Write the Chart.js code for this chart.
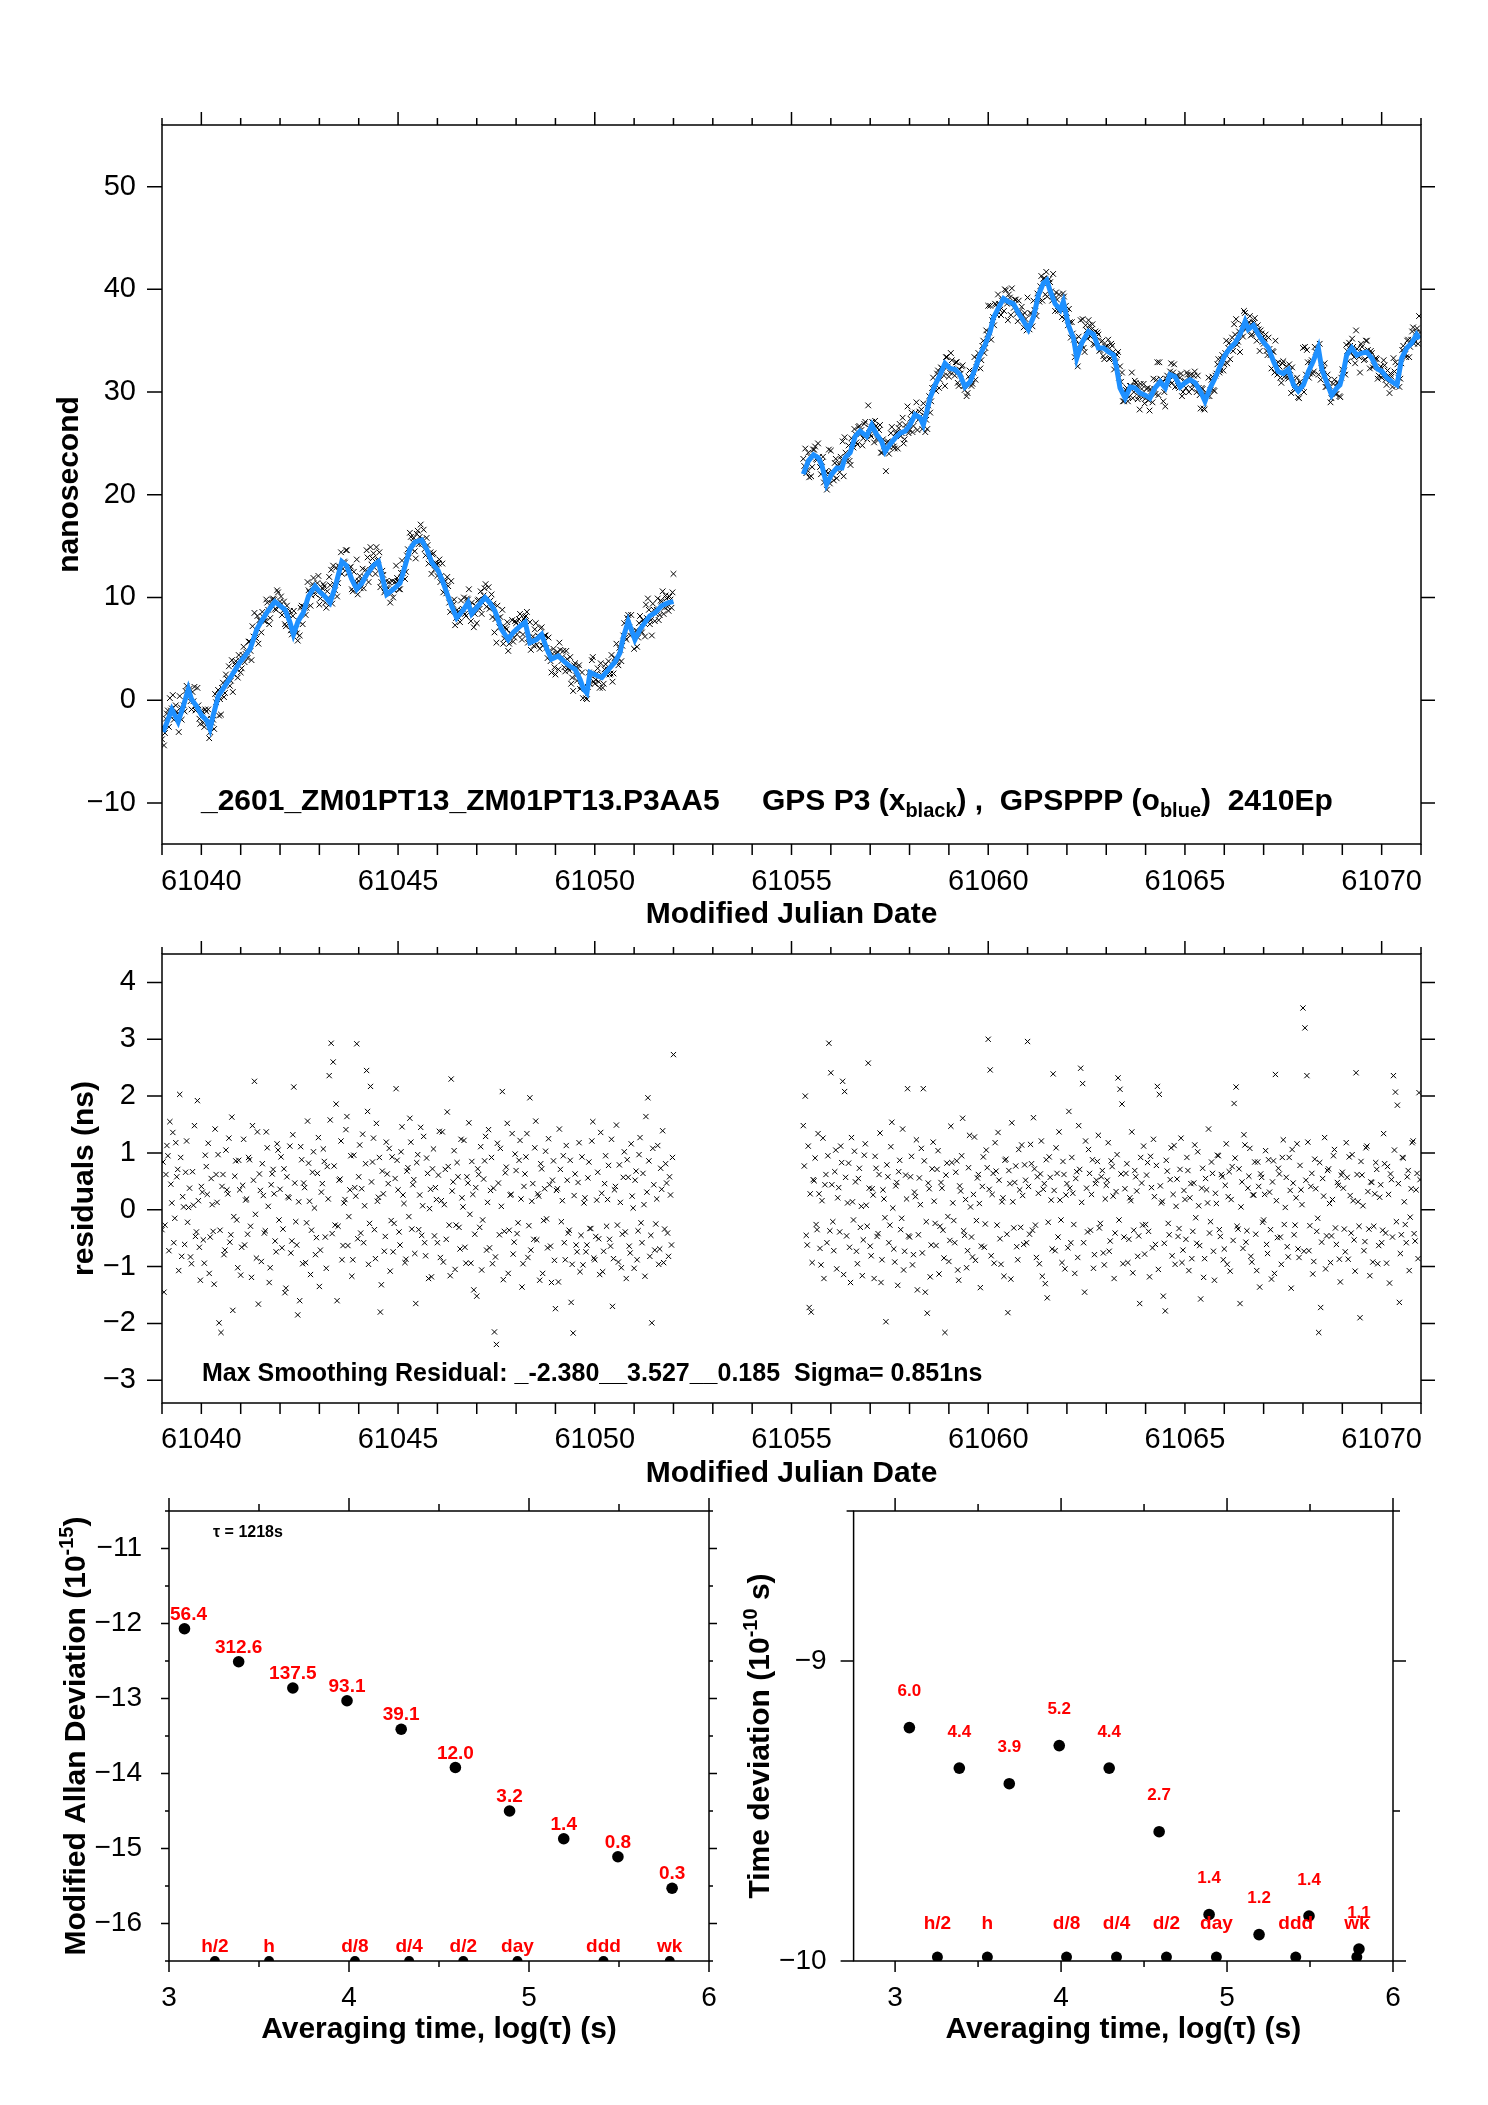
<!DOCTYPE html>
<html><head><meta charset="utf-8">
<script src="https://cdn.jsdelivr.net/npm/chart.js@4.4.1/dist/chart.umd.min.js"></script>
<style>
html,body{margin:0;padding:0;background:#fff;}
body{width:1488px;height:2105px;position:relative;overflow:hidden;}
canvas{position:absolute;}
</style></head><body>
<canvas id="cTop" width="1488" height="940" style="left:0;top:0;width:1488px;height:940px"></canvas>
<canvas id="cRes" width="1488" height="600" style="left:0;top:890px;width:1488px;height:600px"></canvas>
<canvas id="cMdev" width="744" height="655" style="left:0;top:1450px;width:744px;height:655px"></canvas>
<canvas id="cTdev" width="758" height="655" style="left:730px;top:1450px;width:758px;height:655px"></canvas>
<script>
// ---------------- DATA ----------------
// observation epochs (MJD), set A, shared by the P3 clock points and their residuals
const obsMjd = [
61039.00,61039.05,61039.10,61039.15,61039.20,61039.25,61039.30,61039.35,61039.40,61039.45,61039.50,61039.55,61039.60,61039.65,61039.70,61039.75,61039.80,61039.85,61039.90,61039.95,
61040.00,61040.05,61040.10,61040.15,61040.20,61040.25,61040.30,61040.35,61040.40,61040.45,61040.50,61040.55,61040.60,61040.65,61040.70,61040.75,61040.80,61040.85,61040.90,61040.95,
61041.00,61041.05,61041.10,61041.15,61041.20,61041.25,61041.30,61041.35,61041.40,61041.45,61041.50,61041.55,61041.60,61041.65,61041.70,61041.75,61041.80,61041.85,61041.90,61041.95,
61042.00,61042.05,61042.10,61042.15,61042.20,61042.25,61042.30,61042.35,61042.40,61042.45,61042.50,61042.55,61042.60,61042.65,61042.70,61042.75,61042.80,61042.85,61042.90,61042.95,
61043.00,61043.05,61043.10,61043.15,61043.20,61043.25,61043.30,61043.35,61043.40,61043.45,61043.50,61043.55,61043.60,61043.65,61043.70,61043.75,61043.80,61043.85,61043.90,61043.95,
61044.00,61044.05,61044.10,61044.15,61044.20,61044.25,61044.30,61044.35,61044.40,61044.45,61044.50,61044.55,61044.60,61044.65,61044.70,61044.75,61044.80,61044.85,61044.90,61044.95,
61045.00,61045.05,61045.10,61045.15,61045.20,61045.25,61045.30,61045.35,61045.40,61045.45,61045.50,61045.55,61045.60,61045.65,61045.70,61045.75,61045.80,61045.85,61045.90,61045.95,
61046.00,61046.05,61046.10,61046.15,61046.20,61046.25,61046.30,61046.35,61046.40,61046.45,61046.50,61046.55,61046.60,61046.65,61046.70,61046.75,61046.80,61046.85,61046.90,61046.95,
61047.00,61047.05,61047.10,61047.15,61047.20,61047.25,61047.30,61047.35,61047.40,61047.45,61047.50,61047.55,61047.60,61047.65,61047.70,61047.75,61047.80,61047.85,61047.90,61047.95,
61048.00,61048.05,61048.10,61048.15,61048.20,61048.25,61048.30,61048.35,61048.40,61048.45,61048.50,61048.55,61048.60,61048.65,61048.70,61048.75,61048.80,61048.85,61048.90,61048.95,
61049.00,61049.05,61049.10,61049.15,61049.20,61049.25,61049.30,61049.35,61049.40,61049.45,61049.50,61049.55,61049.60,61049.65,61049.70,61049.75,61049.80,61049.85,61049.90,61049.95,
61050.00,61050.05,61050.10,61050.15,61050.20,61050.25,61050.30,61050.35,61050.40,61050.45,61050.50,61050.55,61050.60,61050.65,61050.70,61050.75,61050.80,61050.85,61050.90,61050.95,
61051.00,61051.05,61051.10,61051.15,61051.20,61051.25,61051.30,61051.35,61051.40,61051.45,61051.50,61051.55,61051.60,61051.65,61051.70,61051.75,61051.80,61051.85,61051.90,61051.95,
61052.00,
61055.30,61055.35,61055.40,61055.45,61055.50,61055.55,61055.60,61055.65,61055.70,61055.75,61055.80,61055.85,61055.90,61055.95,
61056.00,61056.05,61056.10,61056.15,61056.20,61056.25,61056.30,61056.35,61056.40,61056.45,61056.50,61056.55,61056.60,61056.65,61056.70,61056.75,61056.80,61056.85,61056.90,61056.95,
61057.00,61057.05,61057.10,61057.15,61057.20,61057.25,61057.30,61057.35,61057.40,61057.45,61057.50,61057.55,61057.60,61057.65,61057.70,61057.75,61057.80,61057.85,61057.90,61057.95,
61058.00,61058.05,61058.10,61058.15,61058.20,61058.25,61058.30,61058.35,61058.40,61058.45,61058.50,61058.55,61058.60,61058.65,61058.70,61058.75,61058.80,61058.85,61058.90,61058.95,
61059.00,61059.05,61059.10,61059.15,61059.20,61059.25,61059.30,61059.35,61059.40,61059.45,61059.50,61059.55,61059.60,61059.65,61059.70,61059.75,61059.80,61059.85,61059.90,61059.95,
61060.00,61060.05,61060.10,61060.15,61060.20,61060.25,61060.30,61060.35,61060.40,61060.45,61060.50,61060.55,61060.60,61060.65,61060.70,61060.75,61060.80,61060.85,61060.90,61060.95,
61061.00,61061.05,61061.10,61061.15,61061.20,61061.25,61061.30,61061.35,61061.40,61061.45,61061.50,61061.55,61061.60,61061.65,61061.70,61061.75,61061.80,61061.85,61061.90,61061.95,
61062.00,61062.05,61062.10,61062.15,61062.20,61062.25,61062.30,61062.35,61062.40,61062.45,61062.50,61062.55,61062.60,61062.65,61062.70,61062.75,61062.80,61062.85,61062.90,61062.95,
61063.00,61063.05,61063.10,61063.15,61063.20,61063.25,61063.30,61063.35,61063.40,61063.45,61063.50,61063.55,61063.60,61063.65,61063.70,61063.75,61063.80,61063.85,61063.90,61063.95,
61064.00,61064.05,61064.10,61064.15,61064.20,61064.25,61064.30,61064.35,61064.40,61064.45,61064.50,61064.55,61064.60,61064.65,61064.70,61064.75,61064.80,61064.85,61064.90,61064.95,
61065.00,61065.05,61065.10,61065.15,61065.20,61065.25,61065.30,61065.35,61065.40,61065.45,61065.50,61065.55,61065.60,61065.65,61065.70,61065.75,61065.80,61065.85,61065.90,61065.95,
61066.00,61066.05,61066.10,61066.15,61066.20,61066.25,61066.30,61066.35,61066.40,61066.45,61066.50,61066.55,61066.60,61066.65,61066.70,61066.75,61066.80,61066.85,61066.90,61066.95,
61067.00,61067.05,61067.10,61067.15,61067.20,61067.25,61067.30,61067.35,61067.40,61067.45,61067.50,61067.55,61067.60,61067.65,61067.70,61067.75,61067.80,61067.85,61067.90,61067.95,
61068.00,61068.05,61068.10,61068.15,61068.20,61068.25,61068.30,61068.35,61068.40,61068.45,61068.50,61068.55,61068.60,61068.65,61068.70,61068.75,61068.80,61068.85,61068.90,61068.95,
61069.00,61069.05,61069.10,61069.15,61069.20,61069.25,61069.30,61069.35,61069.40,61069.45,61069.50,61069.55,61069.60,61069.65,61069.70,61069.75,61069.80,61069.85,61069.90,61069.95,
61070.00,61070.05,61070.10,61070.15,61070.20,61070.25,61070.30,61070.35,61070.40,61070.45,61070.50,61070.55,61070.60,61070.65,61070.70,61070.75,61070.80,61070.85,61070.90,61070.95
];
// GPS P3 clock offsets (ns), black x, set A
const clockNs = [
-3.8,-4.4,-1.8,-1.0,0.2,-0.8,-1.9,-0.5,-1.3,0.4,-1.9,-0.5,0.9,0.7,1.1,-0.9,-0.1,-1.0,1.2,-1.8,
-1.0,-2.2,-0.9,-1.8,-3.7,-1.8,-1.9,0.6,0.1,-1.5,-1.4,1.7,0.7,2.1,3.3,1.9,0.8,3.5,3.0,4.4,
2.7,4.4,3.7,4.7,5.7,4.8,7.2,8.5,6.0,5.5,7.8,8.6,7.7,9.8,8.8,8.0,9.8,9.8,8.8,10.5,
9.6,8.3,9.6,7.2,8.3,8.7,6.4,8.7,6.9,5.8,6.3,9.2,9.1,8.3,11.5,10.5,10.2,11.9,10.3,11.4,
9.3,10.7,11.3,9.5,10.6,12.0,12.7,13.1,10.7,10.1,13.0,14.4,12.8,13.4,14.6,12.4,13.0,10.6,11.6,13.7,
11.6,10.9,12.8,12.0,14.6,11.5,14.9,13.8,12.9,14.9,13.7,11.0,12.6,10.5,11.6,10.9,9.5,11.6,10.7,13.1,
11.6,10.8,13.6,12.8,12.5,14.7,16.3,14.7,15.8,13.8,16.5,15.9,15.2,16.6,14.1,15.1,14.0,12.3,14.3,13.4,
12.1,13.7,12.1,10.5,11.6,12.0,9.5,11.6,9.3,7.3,8.8,8.0,9.7,8.9,8.4,9.9,10.8,7.7,8.8,8.4,
7.5,9.8,10.6,9.5,10.9,9.1,11.0,9.7,8.1,6.6,5.6,8.0,8.1,8.8,6.0,6.9,4.8,6.5,7.8,6.1,
7.5,6.8,8.4,5.9,7.9,8.2,5.6,7.6,5.9,5.3,7.5,6.3,5.0,7.1,5.7,6.3,4.1,4.8,2.7,5.0,
2.5,4.7,5.6,3.8,4.8,2.8,4.0,2.9,1.6,0.9,3.6,1.9,3.4,1.4,0.2,1.1,0.1,2.7,2.4,4.2,
1.6,2.6,1.8,3.6,1.2,3.0,2.5,3.8,2.6,1.8,4.1,5.5,3.4,4.9,5.3,7.5,5.9,8.3,6.3,6.7,
5.0,6.8,6.1,8.2,6.6,7.5,9.3,9.9,7.4,6.3,8.8,8.4,9.9,8.3,9.6,8.4,10.2,9.1,10.1,9.0,
12.3,
23.5,24.5,22.4,21.7,21.8,24.4,24.7,23.4,23.7,22.0,23.7,22.1,20.5,24.4,
24.3,21.9,23.1,21.6,23.0,23.7,25.2,25.6,23.3,24.8,22.9,24.9,26.4,25.1,26.6,25.9,24.8,26.9,25.8,28.7,
25.9,27.1,25.1,26.7,25.3,26.8,24.1,24.7,22.3,25.2,24.6,26.6,24.7,26.0,24.5,26.9,26.0,25.0,26.8,28.6,
26.3,28.0,26.7,28.0,26.3,28.1,28.3,28.9,26.1,26.4,29.6,29.1,31.4,30.5,31.8,30.4,32.4,32.0,30.6,33.4,
31.5,33.8,32.3,31.6,32.9,30.6,31.8,32.6,30.2,29.6,31.5,31.2,30.8,33.4,32.4,33.8,32.3,34.5,33.8,36.0,
38.4,38.4,37.0,36.5,38.5,39.5,38.0,38.9,37.9,39.9,37.0,39.2,40.1,38.2,39.0,36.9,37.9,38.3,36.3,37.1,
39.2,36.1,37.6,38.9,37.9,39.6,38.8,41.3,41.0,39.5,39.3,41.0,39.8,41.5,37.9,39.0,39.5,38.0,39.6,37.1,
37.7,38.1,35.3,35.7,33.4,34.0,35.4,37.0,37.1,33.9,36.0,37.0,35.4,36.6,34.6,35.4,35.6,34.1,35.0,33.2,
34.4,35.1,33.3,34.5,32.2,32.9,33.9,32.5,31.9,29.1,30.2,29.1,30.6,31.9,30.0,30.9,29.3,28.3,30.3,30.8,
29.4,30.4,28.2,30.1,31.3,29.8,32.9,32.9,30.9,29.1,28.6,31.6,31.1,32.8,31.9,30.5,31.6,30.4,31.8,30.0,
31.1,31.9,30.0,31.7,30.7,32.0,30.0,30.4,28.4,30.3,28.3,29.9,31.4,30.2,31.5,30.1,31.8,33.2,32.1,33.6,
32.7,35.0,34.3,33.2,35.3,36.6,37.1,34.9,33.9,36.6,37.9,36.1,36.6,37.4,35.6,36.7,35.7,36.5,34.0,35.7,
34.7,35.6,33.6,34.2,32.3,33.9,35.0,31.7,32.5,30.9,33.0,31.9,31.5,32.7,29.9,31.3,30.2,31.4,29.4,30.8,
34.3,34.4,34.1,31.4,32.9,31.8,34.4,33.6,31.7,31.2,32.6,32.8,30.5,31.2,29.0,30.0,31.2,29.8,30.9,29.5,
32.2,32.1,34.6,33.0,34.5,35.2,33.4,36.0,33.8,31.9,34.4,33.1,35.0,34.1,32.3,33.8,32.6,33.3,31.3,32.3,
31.4,33.1,31.2,32.1,29.9,31.5,33.3,32.9,32.7,30.5,32.8,34.5,33.7,35.0,33.4,35.1,36.3,34.9,36.2,37.4
];
// smoothing residuals (ns), set A
const residNs = [
-0.35,-1.45,0.62,0.95,1.55,0.12,-0.58,1.18,0.71,2.03,-0.82,0.05,0.66,-0.22,0.38,-0.95,0.08,-0.47,1.92,-0.66,
0.41,-0.53,0.96,0.27,-1.12,0.55,-0.38,1.42,0.13,-1.99,-2.16,0.62,-0.71,0.35,1.26,-0.44,-1.77,0.59,-0.18,0.87,
-1.15,0.43,-0.62,0.19,0.92,-0.29,1.48,2.26,-0.85,-1.66,0.34,0.81,-0.41,1.37,0.06,-1.02,0.63,0.28,-0.74,1.05,
0.36,-0.67,0.72,-1.38,0.23,1.12,-0.55,2.16,-0.21,-1.85,-1.6,0.88,0.47,-0.93,1.56,0.15,-0.36,1.02,-0.79,0.64,
-1.35,0.31,1.07,-0.48,0.76,2.36,2.93,2.6,-0.27,-1.6,0.52,1.21,-0.63,0.18,1.64,-0.12,0.95,-0.88,0.39,2.92,
0.58,-0.41,1.33,0.07,2.45,-0.96,2.17,0.84,-0.35,1.52,0.22,-1.8,0.68,-0.73,1.19,0.46,-1.08,0.93,-0.24,2.13,
0.35,-0.62,1.46,0.11,-0.87,0.74,1.61,-0.34,0.53,-1.65,0.97,0.26,-0.45,1.29,-0.81,0.64,0.02,-1.18,1.07,0.39,
-0.58,1.38,0.16,-0.92,0.71,1.72,-0.27,2.3,0.49,-1.05,0.83,-0.31,1.24,0.05,-0.66,0.58,1.53,-0.94,0.27,-0.43,
-1.52,0.62,1.11,-0.18,0.86,-0.71,1.41,0.34,-0.95,-2.15,-2.37,0.47,1.08,2.08,-0.38,0.75,-1.12,0.26,1.34,-0.57,
0.69,-0.23,1.22,-1.36,0.41,0.93,-0.84,1.97,0.15,-0.52,1.56,0.28,-1.24,0.72,-0.19,1.03,-0.67,0.44,-1.28,0.86,
-1.74,0.37,1.42,-0.21,0.95,-0.88,0.52,-0.36,-1.63,-2.17,0.63,-0.74,1.18,-0.45,-0.97,0.21,-0.62,0.84,-0.33,1.55,
-0.88,0.17,-0.51,1.36,-1.09,0.46,-0.29,0.78,-0.64,-1.7,0.35,1.49,-0.92,0.13,-0.43,1.02,-1.21,0.57,-0.76,0.24,
-1.03,0.68,-0.37,1.27,-0.58,0.09,1.64,1.97,-0.82,-1.99,0.44,-0.25,1.13,-0.69,0.36,-0.93,0.81,-0.41,0.58,-0.62,
2.73,
1.48,2.0,-0.62,-1.72,-1.8,0.53,0.91,-0.35,0.28,-0.97,1.26,0.44,-0.58,2.93,
2.41,-0.21,0.67,-1.04,0.39,1.12,2.26,2.08,-0.46,0.82,-1.28,0.14,1.03,-0.73,0.55,-0.31,-1.16,0.96,0.08,2.58,
-0.64,0.37,-1.21,0.73,-0.42,1.35,-0.88,0.19,-1.97,0.58,-0.27,1.54,-0.69,0.42,-1.33,0.87,-0.15,-1.06,0.61,2.13,
-0.48,0.94,-0.79,0.23,-1.41,0.56,1.08,2.13,-1.45,-1.82,0.37,-0.62,1.19,-0.24,0.71,-1.13,0.48,-0.36,-2.16,0.82,
-0.91,1.47,0.12,-0.58,0.86,-1.24,0.33,1.61,-0.45,-1.02,0.74,0.05,-0.83,1.28,-0.19,0.62,-1.37,0.41,-0.66,1.05,
3.0,2.46,0.27,-0.94,0.68,1.36,-0.51,0.14,-1.17,0.89,-1.81,0.46,1.53,-0.32,0.77,-0.88,0.35,1.14,-0.61,0.52,
2.96,-0.43,0.81,1.62,-0.27,0.58,-0.95,1.21,0.36,-1.3,-1.55,0.93,0.17,2.39,-0.72,0.64,1.37,-0.18,0.85,-1.04,
0.46,1.73,-0.58,0.29,-1.12,0.67,1.48,2.49,2.22,-1.45,0.38,1.06,-0.36,0.88,-0.79,0.52,1.31,-0.24,0.69,-0.97,
0.43,1.18,-0.55,0.76,-1.21,0.32,2.32,2.12,1.86,-0.48,0.64,-0.93,0.21,1.37,-0.36,0.58,-0.82,-1.65,0.47,1.12,
-0.26,0.83,-1.18,0.39,1.24,-0.61,2.17,2.03,0.12,-1.52,-1.78,0.68,-0.44,1.09,0.27,-0.96,0.54,-0.33,1.26,-0.71,
0.18,0.92,-1.07,0.46,-0.38,1.14,-0.59,0.07,-1.57,0.73,-0.86,0.35,1.42,-0.21,0.64,-1.24,0.11,0.95,-0.47,0.58,
-0.69,1.16,0.23,-1.08,0.76,1.87,2.16,-0.34,-1.65,0.49,1.32,-0.57,0.38,1.08,-0.92,0.26,-0.43,0.84,-1.36,0.57,
-0.18,1.04,-0.77,0.31,-1.22,0.86,2.38,-0.49,0.63,-0.96,1.23,0.04,-0.65,0.92,-1.38,0.47,-0.27,1.16,-0.84,0.35,
3.55,3.2,2.36,-0.72,0.41,-1.13,0.89,-0.38,-2.16,-1.72,0.55,1.27,-0.46,0.72,-0.93,0.18,1.06,-0.61,0.43,-1.27,
0.66,-0.34,1.18,-0.87,0.25,0.97,-0.53,2.41,0.14,-1.9,0.61,-0.72,1.09,0.32,-1.16,0.48,-0.29,0.83,-0.95,0.22,
-0.58,1.34,-0.41,0.76,-1.29,0.53,2.36,2.07,1.84,-1.63,-0.44,0.91,-0.26,0.58,-1.07,0.37,1.21,-0.55,0.64,2.06
];
// observation epochs (MJD), set B (interleaved)
const obsMjdB = [
61039.025,61039.075,61039.125,61039.175,61039.225,61039.275,61039.325,61039.375,61039.425,61039.475,61039.525,61039.575,61039.625,61039.675,61039.725,61039.775,61039.825,61039.875,61039.925,61039.975,
61040.025,61040.075,61040.125,61040.175,61040.225,61040.275,61040.325,61040.375,61040.425,61040.475,61040.525,61040.575,61040.625,61040.675,61040.725,61040.775,61040.825,61040.875,61040.925,61040.975,
61041.025,61041.075,61041.125,61041.175,61041.225,61041.275,61041.325,61041.375,61041.425,61041.475,61041.525,61041.575,61041.625,61041.675,61041.725,61041.775,61041.825,61041.875,61041.925,61041.975,
61042.025,61042.075,61042.125,61042.175,61042.225,61042.275,61042.325,61042.375,61042.425,61042.475,61042.525,61042.575,61042.625,61042.675,61042.725,61042.775,61042.825,61042.875,61042.925,61042.975,
61043.025,61043.075,61043.125,61043.175,61043.225,61043.275,61043.325,61043.375,61043.425,61043.475,61043.525,61043.575,61043.625,61043.675,61043.725,61043.775,61043.825,61043.875,61043.925,61043.975,
61044.025,61044.075,61044.125,61044.175,61044.225,61044.275,61044.325,61044.375,61044.425,61044.475,61044.525,61044.575,61044.625,61044.675,61044.725,61044.775,61044.825,61044.875,61044.925,61044.975,
61045.025,61045.075,61045.125,61045.175,61045.225,61045.275,61045.325,61045.375,61045.425,61045.475,61045.525,61045.575,61045.625,61045.675,61045.725,61045.775,61045.825,61045.875,61045.925,61045.975,
61046.025,61046.075,61046.125,61046.175,61046.225,61046.275,61046.325,61046.375,61046.425,61046.475,61046.525,61046.575,61046.625,61046.675,61046.725,61046.775,61046.825,61046.875,61046.925,61046.975,
61047.025,61047.075,61047.125,61047.175,61047.225,61047.275,61047.325,61047.375,61047.425,61047.475,61047.525,61047.575,61047.625,61047.675,61047.725,61047.775,61047.825,61047.875,61047.925,61047.975,
61048.025,61048.075,61048.125,61048.175,61048.225,61048.275,61048.325,61048.375,61048.425,61048.475,61048.525,61048.575,61048.625,61048.675,61048.725,61048.775,61048.825,61048.875,61048.925,61048.975,
61049.025,61049.075,61049.125,61049.175,61049.225,61049.275,61049.325,61049.375,61049.425,61049.475,61049.525,61049.575,61049.625,61049.675,61049.725,61049.775,61049.825,61049.875,61049.925,61049.975,
61050.025,61050.075,61050.125,61050.175,61050.225,61050.275,61050.325,61050.375,61050.425,61050.475,61050.525,61050.575,61050.625,61050.675,61050.725,61050.775,61050.825,61050.875,61050.925,61050.975,
61051.025,61051.075,61051.125,61051.175,61051.225,61051.275,61051.325,61051.375,61051.425,61051.475,61051.525,61051.575,61051.625,61051.675,61051.725,61051.775,61051.825,61051.875,61051.925,61051.975,
61055.325,61055.375,61055.425,61055.475,61055.525,61055.575,61055.625,61055.675,61055.725,61055.775,61055.825,61055.875,61055.925,61055.975,
61056.025,61056.075,61056.125,61056.175,61056.225,61056.275,61056.325,61056.375,61056.425,61056.475,61056.525,61056.575,61056.625,61056.675,61056.725,61056.775,61056.825,61056.875,61056.925,61056.975,
61057.025,61057.075,61057.125,61057.175,61057.225,61057.275,61057.325,61057.375,61057.425,61057.475,61057.525,61057.575,61057.625,61057.675,61057.725,61057.775,61057.825,61057.875,61057.925,61057.975,
61058.025,61058.075,61058.125,61058.175,61058.225,61058.275,61058.325,61058.375,61058.425,61058.475,61058.525,61058.575,61058.625,61058.675,61058.725,61058.775,61058.825,61058.875,61058.925,61058.975,
61059.025,61059.075,61059.125,61059.175,61059.225,61059.275,61059.325,61059.375,61059.425,61059.475,61059.525,61059.575,61059.625,61059.675,61059.725,61059.775,61059.825,61059.875,61059.925,61059.975,
61060.025,61060.075,61060.125,61060.175,61060.225,61060.275,61060.325,61060.375,61060.425,61060.475,61060.525,61060.575,61060.625,61060.675,61060.725,61060.775,61060.825,61060.875,61060.925,61060.975,
61061.025,61061.075,61061.125,61061.175,61061.225,61061.275,61061.325,61061.375,61061.425,61061.475,61061.525,61061.575,61061.625,61061.675,61061.725,61061.775,61061.825,61061.875,61061.925,61061.975,
61062.025,61062.075,61062.125,61062.175,61062.225,61062.275,61062.325,61062.375,61062.425,61062.475,61062.525,61062.575,61062.625,61062.675,61062.725,61062.775,61062.825,61062.875,61062.925,61062.975,
61063.025,61063.075,61063.125,61063.175,61063.225,61063.275,61063.325,61063.375,61063.425,61063.475,61063.525,61063.575,61063.625,61063.675,61063.725,61063.775,61063.825,61063.875,61063.925,61063.975,
61064.025,61064.075,61064.125,61064.175,61064.225,61064.275,61064.325,61064.375,61064.425,61064.475,61064.525,61064.575,61064.625,61064.675,61064.725,61064.775,61064.825,61064.875,61064.925,61064.975,
61065.025,61065.075,61065.125,61065.175,61065.225,61065.275,61065.325,61065.375,61065.425,61065.475,61065.525,61065.575,61065.625,61065.675,61065.725,61065.775,61065.825,61065.875,61065.925,61065.975,
61066.025,61066.075,61066.125,61066.175,61066.225,61066.275,61066.325,61066.375,61066.425,61066.475,61066.525,61066.575,61066.625,61066.675,61066.725,61066.775,61066.825,61066.875,61066.925,61066.975,
61067.025,61067.075,61067.125,61067.175,61067.225,61067.275,61067.325,61067.375,61067.425,61067.475,61067.525,61067.575,61067.625,61067.675,61067.725,61067.775,61067.825,61067.875,61067.925,61067.975,
61068.025,61068.075,61068.125,61068.175,61068.225,61068.275,61068.325,61068.375,61068.425,61068.475,61068.525,61068.575,61068.625,61068.675,61068.725,61068.775,61068.825,61068.875,61068.925,61068.975,
61069.025,61069.075,61069.125,61069.175,61069.225,61069.275,61069.325,61069.375,61069.425,61069.475,61069.525,61069.575,61069.625,61069.675,61069.725,61069.775,61069.825,61069.875,61069.925,61069.975,
61070.025,61070.075,61070.125,61070.175,61070.225,61070.275,61070.325,61070.375,61070.425,61070.475,61070.525,61070.575,61070.625,61070.675,61070.725,61070.775,61070.825,61070.875,61070.925,61070.975
];
const clockNsB = [
-2.6,-3.2,-1.3,-2.6,-1.0,0.5,-1.5,-1.1,-3.1,-0.7,-0.9,-1.1,1.4,0.9,-0.1,0.8,1.3,-0.9,-0.5,-2.3,
-1.1,-2.6,-1.1,-0.9,-3.1,-2.2,-2.8,-0.2,1.0,0.1,1.2,0.3,2.5,2.0,1.4,3.9,2.5,3.8,2.2,3.9,
3.1,5.2,4.5,4.1,5.7,3.9,6.2,6.1,8.2,7.8,6.6,8.1,7.7,9.5,7.4,9.4,9.9,8.9,10.7,9.2,
10.1,8.7,7.4,9.2,8.3,6.8,8.2,7.0,6.5,7.7,9.0,7.4,9.0,9.0,10.7,9.2,11.3,10.9,10.6,12.1,
9.9,10.9,11.1,9.0,10.0,11.2,9.4,11.3,12.9,11.4,13.0,12.3,13.5,14.6,12.4,12.9,10.8,12.5,11.4,10.3,
12.1,11.7,10.9,12.7,13.9,12.3,13.2,14.3,12.3,13.6,14.4,11.5,12.2,10.7,11.0,11.5,10.4,10.0,11.5,11.9,
10.8,12.4,12.4,11.8,14.1,13.9,15.9,15.4,14.5,16.2,15.2,17.1,15.7,14.7,15.8,13.3,14.4,14.2,12.7,13.2,
13.3,11.5,13.3,11.5,10.4,11.1,8.6,9.6,9.8,8.0,8.6,7.6,8.7,10.0,8.2,9.8,9.2,9.5,7.1,9.2,
9.7,8.9,8.4,10.2,11.3,9.9,8.9,10.3,9.4,7.9,9.2,7.1,7.1,5.5,7.1,7.6,5.5,6.5,5.7,7.7,
6.4,7.9,7.4,6.4,8.1,8.6,6.1,4.9,6.2,6.9,5.4,6.2,7.0,5.3,6.3,5.1,6.1,3.8,4.5,3.2,
4.5,3.0,4.9,4.2,3.2,4.8,3.1,4.2,2.2,3.4,2.4,3.1,1.1,2.7,1.3,0.2,1.3,1.6,3.9,1.8,
2.0,3.1,1.2,2.5,1.6,3.5,3.0,2.5,4.4,2.6,4.1,3.7,5.1,3.8,6.3,6.1,8.0,7.1,8.3,6.5,
6.5,5.2,7.5,6.7,7.8,6.2,8.0,8.8,7.8,9.4,7.7,8.8,7.8,9.7,10.6,9.0,9.9,8.7,9.8,10.5,
22.8,22.1,24.1,23.7,22.7,24.4,23.5,25.0,22.7,23.2,21.2,22.3,22.1,21.1,
22.3,21.4,23.5,22.8,22.2,23.4,21.8,24.1,23.9,23.3,25.5,24.6,25.9,24.9,26.7,26.3,25.5,27.1,25.4,26.5,
25.7,27.0,27.2,25.5,26.3,24.1,25.4,24.4,25.1,24.0,26.0,25.1,24.5,26.1,26.5,25.7,27.5,25.4,26.4,26.0,
27.4,26.1,27.8,29.0,27.3,27.6,26.4,27.7,27.3,28.7,28.0,30.4,30.4,30.1,32.1,31.2,32.3,31.6,33.4,32.5,
31.9,33.1,32.0,32.9,30.9,32.2,32.5,30.6,30.8,29.9,32.1,30.6,31.9,31.2,33.2,33.3,33.1,35.0,34.3,35.6,
35.8,35.1,37.3,38.6,37.5,38.6,37.5,39.0,40.0,38.6,39.5,37.5,38.7,39.0,37.6,38.9,37.2,37.5,37.7,36.0,
36.6,37.7,36.4,38.0,37.4,39.3,40.3,38.9,41.1,41.7,40.6,40.7,38.9,39.4,39.7,37.9,38.3,37.3,39.3,38.4,
36.5,36.8,36.8,35.1,35.1,32.5,34.6,34.6,34.3,36.5,35.2,36.5,36.1,34.7,35.9,35.8,34.0,34.9,33.5,34.4,
34.5,33.2,34.7,33.9,33.0,33.6,31.4,31.0,29.1,30.0,30.4,29.5,30.6,29.4,31.1,30.6,29.6,30.8,29.5,28.9,
30.3,29.2,30.3,29.0,30.3,31.2,29.7,31.3,31.0,30.0,31.3,30.7,32.0,30.9,32.7,31.6,30.6,31.4,29.6,31.0,
30.4,31.7,31.3,30.3,31.6,30.8,31.6,29.7,30.4,28.4,29.8,29.6,29.6,31.2,30.2,31.6,32.7,31.9,33.2,32.1,
33.8,32.8,34.8,34.5,34.0,35.6,34.6,35.9,35.7,35.4,37.7,36.3,36.8,35.5,36.8,37.2,35.0,36.1,36.0,34.9,
35.2,34.0,35.3,33.6,34.0,31.9,32.8,32.9,31.4,32.8,31.5,32.5,31.3,32.1,32.4,30.4,30.7,29.5,31.0,30.5,
30.0,31.7,32.9,31.8,33.1,32.0,33.9,33.9,34.7,32.3,32.2,30.5,31.7,30.6,29.4,30.8,29.8,30.9,29.6,31.4,
31.9,31.7,34.0,34.8,33.8,34.4,32.8,34.2,33.4,34.7,33.9,33.2,35.0,33.5,34.0,32.4,33.2,33.2,31.6,32.5,
31.6,32.6,30.7,31.6,31.8,30.5,32.0,30.6,31.4,31.3,34.1,33.7,33.4,35.1,34.4,35.9,34.7,35.8,34.7,35.8
];
const residNsB = [
0.84,-0.27,1.13,-0.72,0.45,1.36,-0.15,0.58,-1.07,0.92,0.23,-0.61,1.21,0.04,-0.83,0.67,1.48,-0.39,0.16,-1.24,
0.31,-0.94,0.76,1.17,-0.48,0.09,-1.31,0.62,0.97,-0.36,0.41,-0.79,1.05,0.28,-0.57,1.63,-0.12,0.86,-1.02,0.35,
-0.66,1.24,0.17,-0.43,0.88,-1.19,0.52,-0.08,1.37,0.63,-0.91,0.25,-0.37,1.09,-1.28,0.44,0.71,-0.55,1.16,-0.18,
0.93,-0.34,-1.46,0.58,0.21,-0.76,1.32,0.47,-0.62,0.14,1.11,-0.95,0.39,-0.23,0.82,-1.14,0.66,0.03,-0.49,1.27,
-0.71,0.46,0.85,-1.03,0.19,1.58,-0.42,0.77,1.86,-0.29,0.54,-0.88,0.12,1.41,-0.63,0.35,-1.17,0.96,0.24,-0.51,
1.14,0.37,-0.58,0.81,1.73,-0.24,0.49,1.26,-0.86,0.15,0.92,-1.32,0.28,-0.47,0.63,1.08,-0.19,-0.74,0.55,0.87,
-0.39,1.02,0.26,-0.93,0.68,-0.12,1.19,0.44,-0.77,0.83,-0.35,1.45,0.07,-0.58,0.91,-1.21,0.36,0.72,-0.46,0.18,
0.61,-0.84,1.37,0.09,-0.52,0.76,-1.16,0.33,1.04,-0.27,0.58,-0.69,0.21,1.22,-0.94,0.47,-0.08,0.85,-1.41,0.39,
0.72,-0.31,-1.06,0.54,1.29,0.13,-0.67,0.92,0.38,-0.83,1.17,-0.44,0.06,-1.23,0.65,1.52,-0.36,0.27,-0.78,0.98,
-0.42,0.87,0.19,-0.95,0.63,1.34,-0.28,-0.71,0.46,1.09,-0.53,0.24,0.81,-1.12,0.37,-0.16,1.25,-0.64,0.52,-0.89,
0.34,-1.27,0.71,0.16,-0.58,1.13,-0.41,0.87,-0.96,0.25,-0.62,0.48,-1.09,0.93,0.12,-0.74,0.56,-0.33,1.21,-0.85,
-0.47,0.66,-1.14,0.29,-0.73,0.95,0.18,-0.52,1.24,-0.86,0.41,-0.27,0.79,-1.02,0.57,-0.39,0.88,-0.64,1.16,0.03,
0.52,-0.88,0.97,-0.23,0.64,-1.17,0.31,0.86,-0.45,1.08,-0.71,0.19,-0.96,0.73,1.39,-0.34,0.47,-0.82,0.26,0.92,
0.77,-0.45,1.12,0.28,-0.93,0.51,-0.26,1.34,-0.68,0.16,-1.21,0.62,0.95,-0.37,
0.44,-0.72,1.05,0.21,-0.39,0.83,-1.14,0.57,0.12,-0.66,1.27,-0.18,0.49,-0.95,0.73,0.06,-0.53,1.16,-0.29,0.38,
-0.81,0.26,0.94,-0.47,0.62,-1.28,0.35,-0.14,0.79,-0.58,1.11,0.03,-0.92,0.48,0.67,-0.35,1.42,-0.73,0.19,-0.46,
0.58,-0.97,0.31,1.23,-0.44,0.09,-0.76,0.86,-0.21,0.47,-1.18,0.72,0.15,-0.63,1.04,-0.29,0.38,-0.85,0.61,-0.12,
-0.54,0.83,-0.19,0.66,-1.06,0.42,0.95,-0.37,0.18,-0.72,1.31,-0.48,0.27,-0.89,0.56,0.11,-0.64,0.93,-0.25,0.74,
0.36,-0.81,0.64,1.18,-0.27,0.52,-0.96,0.21,0.87,-0.43,0.69,-1.22,0.14,0.48,-0.65,1.06,-0.31,0.25,0.79,-0.58,
0.41,1.15,-0.36,0.72,-0.84,0.29,0.63,-1.17,0.46,0.88,-0.22,0.57,-0.69,0.34,1.09,-0.48,0.17,-0.93,0.62,0.26,
-0.67,0.38,0.92,-0.26,0.55,-0.84,0.71,0.13,-0.58,1.21,-0.39,0.64,0.27,-1.03,0.46,0.85,-0.32,0.58,-0.76,0.19,
0.52,-0.73,0.86,0.24,-0.41,0.97,-0.18,0.63,-0.95,0.37,0.81,-0.52,0.16,-1.11,0.69,0.33,-0.46,0.92,-0.27,-0.78,
0.61,-0.38,0.94,-0.67,0.23,0.78,-1.05,0.42,0.15,-0.59,0.87,-0.24,0.53,-0.81,1.13,0.06,-0.47,0.71,-0.93,0.34,
-0.52,0.69,0.21,-0.86,0.47,-0.14,1.02,-0.63,0.38,-1.19,0.55,0.12,-0.41,0.84,-0.73,0.29,0.96,-0.35,0.62,-0.88,
0.43,-0.96,0.67,0.18,-0.54,0.91,-0.29,0.72,0.05,-0.68,1.14,-0.37,0.59,-0.82,0.26,0.84,-1.07,0.41,0.63,-0.22,
0.27,-0.61,0.88,-0.35,0.49,-1.12,0.16,0.73,-0.48,0.92,-0.26,0.57,-0.83,0.34,1.06,-0.44,0.21,-0.69,0.78,0.09,
-0.73,0.52,1.19,-0.28,0.64,-0.91,0.37,-0.15,0.83,-0.57,0.24,-1.04,0.69,0.11,-0.46,0.95,-0.32,0.48,-0.87,0.61,
0.38,-0.74,0.57,0.93,-0.41,0.16,-1.08,0.62,-0.29,0.85,0.07,-0.56,1.12,-0.34,0.49,-0.92,0.28,0.71,-0.63,0.44,
-0.36,0.81,-0.94,0.27,0.63,-0.48,1.05,-0.21,0.46,-0.77,0.92,0.14,-0.58,0.69,-0.13,1.18,-0.42,0.35,-0.86,0.53
];
// GPSPPP smoothed solution (blue)
const smoothMjd = [
61039.03,61039.12,61039.25,61039.33,61039.41,61039.54,61039.67,61039.75,61039.88,61040.01,
61040.14,61040.22,61040.30,61040.43,61040.60,61040.77,61040.98,61041.11,61041.24,61041.41,
61041.53,61041.66,61041.87,61042.00,61042.13,61042.25,61042.34,61042.46,61042.59,61042.72,
61042.89,61043.02,61043.14,61043.27,61043.40,61043.57,61043.69,61043.82,61043.95,61044.08,
61044.20,61044.37,61044.50,61044.59,61044.71,61044.88,61045.05,61045.18,61045.30,61045.43,
61045.60,61045.73,61045.86,61046.02,61046.15,61046.28,61046.36,61046.49,61046.66,61046.78,
61046.87,61047.04,61047.21,61047.33,61047.46,61047.63,61047.80,61047.93,61048.10,61048.23,
61048.35,61048.52,61048.65,61048.78,61048.90,61049.07,61049.24,61049.37,61049.50,61049.63,
61049.71,61049.80,61049.88,61050.05,61050.18,61050.35,61050.51,61050.64,61050.73,61050.85,
61051.02,61051.15,61051.28,61051.40,61051.53,61051.70,61051.87,61052.00,
61055.30,61055.43,61055.56,61055.68,61055.77,61055.89,61056.02,61056.15,61056.28,61056.36,
61056.49,61056.62,61056.74,61056.91,61057.04,61057.16,61057.29,61057.38,61057.50,61057.63,
61057.76,61057.89,61058.01,61058.14,61058.27,61058.35,61058.44,61058.52,61058.65,61058.78,
61058.90,61059.03,61059.16,61059.28,61059.41,61059.54,61059.67,61059.79,61059.92,61060.05,
61060.13,61060.26,61060.39,61060.51,61060.64,61060.77,61060.90,61061.02,61061.15,61061.28,
61061.40,61061.49,61061.57,61061.70,61061.83,61061.91,61062.04,61062.17,61062.25,61062.38,
61062.55,61062.68,61062.80,61062.93,61063.06,61063.19,61063.27,61063.35,61063.48,61063.61,
61063.73,61063.86,61063.99,61064.11,61064.24,61064.37,61064.50,61064.62,61064.75,61064.88,
61065.00,61065.13,61065.26,61065.39,61065.51,61065.64,61065.77,61065.89,61066.02,61066.15,
61066.28,61066.40,61066.53,61066.61,61066.74,61066.87,61066.99,61067.12,61067.25,61067.37,
61067.50,61067.63,61067.76,61067.88,61068.01,61068.14,61068.26,61068.39,61068.48,61068.60,
61068.73,61068.86,61068.94,61069.03,61069.11,61069.24,61069.37,61069.50,61069.62,61069.75,
61069.88,61070.01,61070.13,61070.26,61070.39,61070.51,61070.64,61070.77,61070.89,61070.97
];
const smoothNs = [
-3.1,-2.2,-0.9,-1.5,-2.1,-0.6,1.1,0.1,-0.6,-1.5,
-2.0,-2.8,-1.5,0.4,1.4,2.4,3.7,4.3,5.0,6.9,
7.7,8.5,9.6,9.2,8.8,7.6,6.4,7.7,8.5,10.1,
11.1,10.5,10.1,9.5,11.0,13.5,13.1,11.8,10.8,11.4,
12.2,13.1,13.5,12.1,10.3,10.8,11.4,13.1,14.7,15.4,
15.6,14.7,13.4,12.6,11.4,10.0,9.2,8.0,8.8,9.5,
8.4,9.2,10.0,9.5,8.7,6.9,5.9,6.6,7.2,7.6,
5.6,5.9,6.4,5.0,4.0,4.3,3.7,3.3,3.0,2.0,
1.1,0.7,2.7,2.4,2.2,3.0,3.7,4.6,6.2,7.7,
5.9,6.9,7.6,8.2,8.5,9.2,9.5,9.6,
22.0,23.3,23.9,23.6,22.9,21.0,22.0,22.6,22.6,23.6,
24.1,25.7,26.2,25.7,26.8,25.9,25.2,24.2,24.9,25.5,
26.0,26.2,26.8,27.8,27.5,26.8,28.1,29.4,30.7,31.7,
32.8,32.3,32.2,31.7,30.5,31.0,32.3,33.6,34.6,35.9,
37.2,38.2,39.1,38.8,38.6,37.7,36.9,36.1,37.3,39.5,
40.6,40.9,39.9,38.6,38.0,38.8,36.5,35.2,33.3,34.8,
35.9,35.6,34.3,34.3,33.9,33.6,32.2,30.4,29.4,30.5,
30.4,29.9,29.7,29.4,30.4,31.0,30.4,31.7,31.5,30.5,
30.9,31.2,30.9,30.1,29.1,30.4,31.4,32.5,33.6,34.3,
34.8,35.6,36.9,36.1,36.5,35.6,34.9,34.3,33.0,32.0,
31.8,32.2,30.7,30.1,30.7,32.0,33.0,34.3,32.2,31.0,
29.7,30.4,30.7,32.0,33.6,34.3,33.6,33.8,33.9,33.3,
32.3,32.0,31.4,31.0,30.7,33.3,34.3,34.8,35.6,35.2
];
// stability panels
const tauLog = [3.086, 3.387, 3.688, 3.989, 4.290, 4.591, 4.892, 5.193, 5.494, 5.795];
const mdevLog = [-12.07, -12.51, -12.86, -13.03, -13.41, -13.92, -14.50, -14.87, -15.11, -15.53];
const mdevLabels = ['56.4','312.6','137.5','93.1','39.1','12.0','3.2','1.4','0.8','0.3'];
const tdevLog = [-9.222, -9.357, -9.409, -9.282, -9.357, -9.569, -9.845, -9.912, -9.850, -9.960];
const tdevLabels = ['6.0','4.4','3.9','5.2','4.4','2.7','1.4','1.2','1.4','1.1'];
const markLog = [3.255, 3.556, 4.033, 4.334, 4.635, 4.936, 5.414, 5.782];
const markNames = ['h/2','h','d/8','d/4','d/2','day','ddd','wk'];
const markMdevY = [-16.5,-16.5,-16.5,-16.5,-16.5,-16.5,-16.5,-16.5];
const markTdevY = [-9.987,-9.987,-9.987,-9.987,-9.987,-9.987,-9.987,-9.987];
// tick labels
const mjdTicks = [61040,61045,61050,61055,61060,61065,61070];
const nsTicks = [-10,0,10,20,30,40,50];
const resTicks = [-3,-2,-1,0,1,2,3,4];
const logTauTicks = [3,4,5,6];
const mdevTicks = [-16,-15,-14,-13,-12,-11];
const tdevTicks = [-10,-9];

// ---------------- DRAWING ----------------
const FONT = '"Liberation Sans", Arial, Helvetica, sans-serif';
const minusFmt = v => (v < 0 ? '\u2212' + Math.abs(v) : String(v));

function steps(a, b, s, major, lMaj, lMin){
  const out = [];
  for (let v = a; v <= b + 1e-9; v += s){
    const r = Math.round(v*1000)/1000;
    const isMaj = Math.abs(r/major - Math.round(r/major)) < 1e-6;
    out.push([r, isMaj ? lMaj : lMin]);
  }
  return out;
}
function drawFrame(chart, spec){
  const {ctx, chartArea:a} = chart; const x = chart.scales.x, y = chart.scales.y;
  ctx.save(); ctx.strokeStyle = '#000'; ctx.lineWidth = 1.5;
  ctx.strokeRect(a.left, a.top, a.right-a.left, a.bottom-a.top);
  ctx.beginPath();
  spec.top.forEach(([v,l]) => {const p = x.getPixelForValue(v); ctx.moveTo(p,a.top); ctx.lineTo(p,a.top-l);});
  spec.bottom.forEach(([v,l]) => {const p = x.getPixelForValue(v); ctx.moveTo(p,a.bottom); ctx.lineTo(p,a.bottom+l);});
  spec.left.forEach(([v,l]) => {const p = y.getPixelForValue(v); ctx.moveTo(a.left,p); ctx.lineTo(a.left-l,p);});
  spec.right.forEach(([v,l]) => {const p = y.getPixelForValue(v); ctx.moveTo(a.right,p); ctx.lineTo(a.right+l,p);});
  ctx.stroke(); ctx.restore();
}
// rich text: parts = [text, size, dy, weight]
function rich(ctx, parts, x, y, align){
  let w = 0;
  parts.forEach(p => { ctx.font = (p[3]||'bold') + ' ' + p[1] + 'px ' + FONT; p.w = ctx.measureText(p[0]).width; w += p.w; });
  let cx = align === 'center' ? x - w/2 : x;
  ctx.textAlign = 'left'; ctx.textBaseline = 'alphabetic';
  parts.forEach(p => { ctx.font = (p[3]||'bold') + ' ' + p[1] + 'px ' + FONT; ctx.fillText(p[0], cx, y + (p[2]||0)); cx += p.w; });
}
function yTitle(ctx, parts, baseX, cy){
  ctx.save(); ctx.translate(baseX, cy); ctx.rotate(-Math.PI/2);
  rich(ctx, parts, 0, 0, 'center'); ctx.restore();
}

function makeChart(id, cfg){
  const cv = document.getElementById(id);
  const W = cv.width, H = cv.height, A = cfg.area;
  return new Chart(cv, {
    type: 'scatter',
    data: {datasets: cfg.datasets},
    options: {
      responsive: false, animation: false, devicePixelRatio: 1, events: [],
      layout: {padding: {left: 0, top: A.top, right: W - A.right, bottom: 0}},
      plugins: {legend: {display: false}, tooltip: {enabled: false}},
      scales: {
        x: {type: 'linear', position: 'bottom', min: cfg.x.min, max: cfg.x.max,
            grid: {display: false, drawTicks: false}, border: {display: false},
            afterBuildTicks: s => { s.ticks = cfg.x.ticks.map(v => ({value: v})); },
            afterFit: s => { s.height = H - A.bottom; },
            ticks: {padding: cfg.x.pad, maxRotation: 0, autoSkip: false, color: '#000',
                    font: {family: FONT, size: cfg.font}, callback: v => String(v)}},
        y: {type: 'linear', position: 'left', min: cfg.y.min, max: cfg.y.max,
            grid: {display: false, drawTicks: false}, border: {display: false},
            afterBuildTicks: s => { s.ticks = cfg.y.ticks.map(v => ({value: v})); },
            afterFit: s => { s.width = A.left; },
            ticks: {padding: cfg.y.pad, autoSkip: false, color: '#000',
                    font: {family: FONT, size: cfg.font}, callback: minusFmt}}
      }
    },
    plugins: [{id: 'deco' + id, afterDatasetsDraw: chart => cfg.draw(chart)}]
  });
}

// ---- build point lists ----
const clockPts = obsMjd.map((t,i) => ({x: t, y: clockNs[i]})).concat(obsMjdB.map((t,i) => ({x: t, y: clockNsB[i]})));
const residPts = obsMjd.map((t,i) => ({x: t, y: residNs[i]})).concat(obsMjdB.map((t,i) => ({x: t, y: residNsB[i]})));
const smoothPts = [];
smoothMjd.forEach((t,i) => {
  if (i > 0 && t - smoothMjd[i-1] > 1) smoothPts.push({x: (t + smoothMjd[i-1])/2, y: null});
  smoothPts.push({x: t, y: smoothNs[i]});
});

// ---- top chart ----
const mjdTopTicks = steps(61039, 61071, 1, 5, 13, 7);
const mjdBotTicks = steps(61039, 61071, 1, 5, 11, 11);
makeChart('cTop', {
  area: {left: 162, top: 125, right: 1421, bottom: 844}, font: 29,
  x: {min: 61039, max: 61071, ticks: mjdTicks, pad: 21},
  y: {min: -14, max: 56, ticks: nsTicks, pad: 26},
  datasets: [
    {data: smoothPts, showLine: true, borderColor: '#1e90ff', borderWidth: 5, pointRadius: 0, spanGaps: false, tension: 0},
    {data: clockPts, pointStyle: 'crossRot', pointRadius: 4, borderColor: '#000', borderWidth: 1, backgroundColor: '#000'}
  ],
  draw: chart => {
    const ctx = chart.ctx, a = chart.chartArea;
    drawFrame(chart, {top: mjdTopTicks, bottom: mjdBotTicks,
      left: nsTicks.map(v => [v, 15]), right: nsTicks.map(v => [v, 14])});
    ctx.save(); ctx.fillStyle = '#000';
    rich(ctx, [['Modified Julian Date', 30]], (a.left + a.right)/2, a.bottom + 79, 'center');
    yTitle(ctx, [['nanosecond', 30]], 78, (a.top + a.bottom)/2);
    rich(ctx, [['_2601_ZM01PT13_ZM01PT13.P3AA5', 30]], 201, a.bottom - 34, 'left');
    rich(ctx, [['GPS P3 (x', 30], ['black', 20, 7], [') ,  GPSPPP (o', 30], ['blue', 20, 7], [')  2410Ep', 30]], 762, a.bottom - 34, 'left');
    ctx.restore();
  }
});

// ---- residual chart ----
makeChart('cRes', {
  area: {left: 162, top: 64, right: 1421, bottom: 513}, font: 29,
  x: {min: 61039, max: 61071, ticks: mjdTicks, pad: 20},
  y: {min: -3.4, max: 4.5, ticks: resTicks, pad: 26},
  datasets: [
    {data: residPts, pointStyle: 'crossRot', pointRadius: 3.7, borderColor: '#000', borderWidth: 1}
  ],
  draw: chart => {
    const ctx = chart.ctx, a = chart.chartArea;
    drawFrame(chart, {top: mjdTopTicks, bottom: mjdBotTicks,
      left: resTicks.map(v => [v, 15]), right: resTicks.map(v => [v, 14])});
    ctx.save(); ctx.fillStyle = '#000';
    rich(ctx, [['Modified Julian Date', 30]], (a.left + a.right)/2, a.bottom + 79, 'center');
    yTitle(ctx, [['residuals (ns)', 30]], 93, (a.top + a.bottom)/2);
    rich(ctx, [['Max Smoothing Residual: _-2.380__3.527__0.185', 25]], 202, a.bottom - 22, 'left');
    rich(ctx, [['Sigma= 0.851ns', 25]], 794, a.bottom - 22, 'left');
    ctx.restore();
  }
});

// ---- MDEV chart ----
makeChart('cMdev', {
  area: {left: 169, top: 61, right: 709, bottom: 511}, font: 28,
  x: {min: 3, max: 6, ticks: logTauTicks, pad: 20},
  y: {min: -16.5, max: -10.5, ticks: mdevTicks, pad: 27},
  datasets: [
    {data: tauLog.map((t,i) => ({x: t, y: mdevLog[i]})), pointRadius: 5.8, backgroundColor: '#000', borderColor: '#000', borderWidth: 0},
    {data: markLog.map((t,i) => ({x: t, y: markMdevY[i]})), pointRadius: 5, backgroundColor: '#000', borderColor: '#000', borderWidth: 0}
  ],
  draw: chart => {
    const ctx = chart.ctx, a = chart.chartArea, x = chart.scales.x, y = chart.scales.y;
    drawFrame(chart, {top: steps(3,6,0.5,1,13,7), bottom: steps(3,6,0.5,1,11,6),
      left: steps(-16.5,-10.5,0.5,1,8,4), right: steps(-16.5,-10.5,0.5,1,8,4)});
    ctx.save();
    ctx.fillStyle = '#ff0000'; ctx.font = 'bold 19px ' + FONT; ctx.textAlign = 'center'; ctx.textBaseline = 'middle';
    tauLog.forEach((t,i) => {
      const px = x.getPixelForValue(t), py = y.getPixelForValue(mdevLog[i]);
      const w = ctx.measureText(mdevLabels[i]).width;
      ctx.fillText(mdevLabels[i], Math.max(px, a.left + w/2 + 1), py - 14);
    });
    markLog.forEach((t,i) => ctx.fillText(markNames[i], x.getPixelForValue(t), y.getPixelForValue(markMdevY[i]) - 14));
    ctx.fillStyle = '#000';
    ctx.font = 'bold 16px ' + FONT; ctx.textAlign = 'left'; ctx.fillText('\u03c4 = 1218s', a.left + 44, a.top + 22);
    rich(ctx, [['Averaging time, log(\u03c4) (s)', 30]], (a.left + a.right)/2, a.bottom + 77, 'center');
    yTitle(ctx, [['Modified Allan Deviation (10', 30], ['-15', 20, -12], [')', 30]], 85, (a.top + a.bottom)/2);
    ctx.restore();
  }
});

// ---- TDEV chart ----
makeChart('cTdev', {
  area: {left: 123.6, top: 61, right: 663, bottom: 511}, font: 28,
  x: {min: 2.75, max: 6, ticks: logTauTicks, pad: 20},
  y: {min: -10, max: -8.5, ticks: tdevTicks, pad: 27},
  datasets: [
    {data: tauLog.map((t,i) => ({x: t, y: tdevLog[i]})), pointRadius: 5.8, backgroundColor: '#000', borderColor: '#000', borderWidth: 0},
    {data: markLog.map((t,i) => ({x: t, y: markTdevY[i]})), pointRadius: 5.5, backgroundColor: '#000', borderColor: '#000', borderWidth: 0}
  ],
  draw: chart => {
    const ctx = chart.ctx, a = chart.chartArea, x = chart.scales.x, y = chart.scales.y;
    drawFrame(chart, {top: steps(3,6,0.5,1,13,7), bottom: steps(3,6,0.5,1,11,6),
      left: [[-10,13],[-9,13],[-8.5,7]], right: [[-10,13],[-9.5,7],[-9,13],[-8.5,7]]});
    ctx.save();
    ctx.fillStyle = '#ff0000'; ctx.textAlign = 'center'; ctx.textBaseline = 'middle';
    ctx.font = 'bold 17px ' + FONT;
    tauLog.forEach((t,i) => ctx.fillText(tdevLabels[i], x.getPixelForValue(t), y.getPixelForValue(tdevLog[i]) - 36));
    ctx.font = 'bold 19px ' + FONT;
    markLog.forEach((t,i) => ctx.fillText(markNames[i], x.getPixelForValue(t), y.getPixelForValue(markTdevY[i]) - 33));
    ctx.fillStyle = '#000';
    rich(ctx, [['Averaging time, log(\u03c4) (s)', 30]], (a.left + a.right)/2, a.bottom + 77, 'center');
    yTitle(ctx, [['Time deviation (10', 30], ['-10', 20, -12], [' s)', 30]], 38.5, (a.top + a.bottom)/2);
    ctx.restore();
  }
});
</script>
</body></html>
